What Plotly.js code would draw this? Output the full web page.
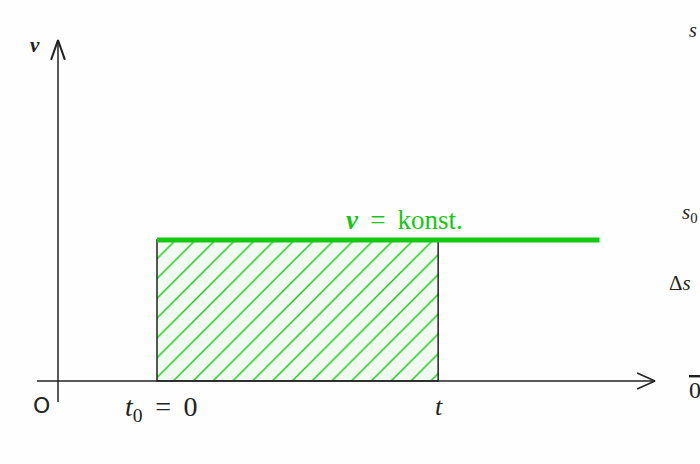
<!DOCTYPE html>
<html><head><meta charset="utf-8">
<script src="https://cdn.plot.ly/plotly-3.0.1.min.js"></script>
<style>html,body{margin:0;padding:0;background:#fdfefd;}#chart{width:700px;height:464px;}</style>
</head><body><div id="chart"></div>
<script>
// Data (conceptual units)
const tStart = 1.0;      // t0 = 0 position
const tEnd = 3.84;       // t position
const lineEnd = 5.47;    // end of the v = konst. line
const vConst = 1.0;      // constant velocity
// axis extents
const xAxisFrom = -0.212, xAxisTo = 6.03;
const yAxisFrom = -0.149, yAxisTo = 2.418;
// arrow head sizes (data units)
const xHeadLen = 0.18, xHeadHalf = 0.057;
const yHeadLen = 0.14, yHeadHalf = 0.07;

const green = '#14c814';
const ink = '#222';

const traces = [
  { // hatched area v*t
    type: 'bar', x: [(tStart + tEnd) / 2], y: [vConst], width: [tEnd - tStart],
    marker: { color: 'rgba(0,0,0,0)', line: { color: ink, width: 1.5 },
      pattern: { shape: '/', fgcolor: green, bgcolor: '#f2fbf2', size: 14, solidity: 0.1, fillmode: 'replace' } },
    hoverinfo: 'skip', showlegend: false
  },
  { // x axis
    type: 'scatter', mode: 'lines', x: [xAxisFrom, xAxisTo], y: [0, 0],
    line: { color: ink, width: 1.5 }, hoverinfo: 'skip', showlegend: false
  },
  { // x arrow head
    type: 'scatter', mode: 'lines',
    x: [xAxisTo - xHeadLen, xAxisTo, xAxisTo - xHeadLen], y: [xHeadHalf, 0, -xHeadHalf],
    line: { color: ink, width: 1.5 }, hoverinfo: 'skip', showlegend: false
  },
  { // y axis
    type: 'scatter', mode: 'lines', x: [0, 0], y: [yAxisFrom, yAxisTo],
    line: { color: ink, width: 1.5 }, hoverinfo: 'skip', showlegend: false
  },
  { // y arrow head
    type: 'scatter', mode: 'lines',
    x: [-yHeadHalf, 0, yHeadHalf], y: [yAxisTo - yHeadLen, yAxisTo, yAxisTo - yHeadLen],
    line: { color: ink, width: 2 }, hoverinfo: 'skip', showlegend: false
  },
  { // v = konst.
    type: 'scatter', mode: 'lines', x: [tStart, lineEnd], y: [vConst, vConst],
    line: { color: green, width: 5 }, hoverinfo: 'skip', showlegend: false
  }
];

const serif = 'Liberation Serif, Times New Roman, serif';
const ann = (x, y, text, opts) => Object.assign({ xref: 'paper', yref: 'paper', x: x / 700, y: 1 - y / 464,
  text: text, showarrow: false, xanchor: 'center', yanchor: 'middle',
  font: { family: serif, size: 24, color: ink } }, opts || {});

const layout = {
  width: 700, height: 464,
  margin: { l: 0, r: 0, t: 0, b: 0 },
  paper_bgcolor: '#fdfefd', plot_bgcolor: 'rgba(0,0,0,0)',
  barmode: 'overlay',
  xaxis: { range: [-58 / 99, 642 / 99], visible: false, fixedrange: true },
  yaxis: { range: [-83 / 141, 381 / 141], visible: false, fixedrange: true },
  annotations: [
    ann(404, 220, '<b><i>v</i></b>\u2009 = \u2009konst.', { font: { family: serif, size: 27, color: green } }),
    ann(35, 45, '<b><i>v</i></b>', { font: { family: serif, size: 21, color: ink } }),
    ann(41, 405, 'O', { font: { family: 'DejaVu Sans, sans-serif', size: 22, color: ink } }),
    ann(161, 408, '<i>t</i><sub>0</sub>\u2009 = \u20090', { font: { family: serif, size: 28, color: ink } }),
    ann(439, 406, '<i>t</i>', { font: { family: serif, size: 26, color: ink } }),
    ann(687, 30, '<i>s</i>', { xanchor: 'left', font: { family: serif, size: 20, color: ink } }),
    ann(680, 213, '<i>s</i><sub>0</sub>', { xanchor: 'left', font: { family: serif, size: 21, color: ink } }),
    ann(667, 283, 'Δ<i>s</i>', { xanchor: 'left', font: { family: serif, size: 21, color: ink } }),
    ann(687, 390, '<span style="text-decoration:overline">0</span>', { xanchor: 'left', font: { family: serif, size: 24, color: ink } })
  ]
};

Plotly.newPlot('chart', traces, layout, { displayModeBar: false, staticPlot: true });
</script></body></html>
